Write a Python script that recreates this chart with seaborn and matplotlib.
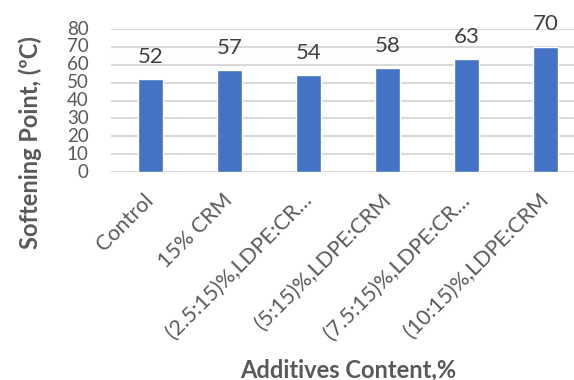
import matplotlib
matplotlib.use("Agg")
import matplotlib.pyplot as plt
import seaborn as sns
import pandas as pd

categories = ["Control", "15% CRM", "(2.5:15)%,LDPE:CR…", "(5:15)%,LDPE:CRM",
              "(7.5:15)%,LDPE:CR…", "(10:15)%,LDPE:CRM"]
softening_point = [52, 57, 54, 58, 63, 70]
y_ticks = [0, 10, 20, 30, 40, 50, 60, 70, 80]

df = pd.DataFrame({"cat": categories, "val": softening_point})

sns.set_theme(style="white")
plt.rcParams["font.family"] = ["Lato", "DejaVu Sans"]
text_color = "#595959"

W, H = 574, 380
fig = plt.figure(figsize=(W / 100, H / 100), dpi=100)
# plot area in pixels: left 111, right 585 (runs past the edge), y 29..172
ax = fig.add_axes([111 / W, 1 - 172 / H, 474 / W, 143 / H])

sns.barplot(data=df, x="cat", y="val", color="#4472C4", width=0.32,
            saturation=1, ax=ax, zorder=3)

ax.set_ylim(0, 80)
ax.set_xlim(-0.5, len(categories) - 0.5)
ax.set_yticks(y_ticks)
ax.yaxis.grid(True, color="#D9D9D9", linewidth=1.5, zorder=0)
ax.set_axisbelow(True)
for s in ["top", "right", "left", "bottom"]:
    ax.spines[s].set_visible(False)

ax.tick_params(axis="y", length=0, pad=16, labelsize=13.5, labelcolor=text_color)
ax.tick_params(axis="x", length=0, pad=18, labelsize=15.5, labelcolor=text_color)
plt.setp(ax.get_xticklabels(), rotation=45, ha="right", va="center",
         rotation_mode="anchor")
for lbl in ax.get_yticklabels():
    lbl.set_verticalalignment("center")

for i, v in enumerate(softening_point):
    ax.annotate(f"{v}", (i, v), xytext=(0, 9), textcoords="offset points",
                ha="center", va="bottom", fontsize=16, color="#404040")

ax.set_ylabel("Softening Point, (ºC)", fontsize=17, fontweight="bold",
              color=text_color)
ax.set_xlabel("Additives Content,%", fontsize=17, fontweight="bold",
              color=text_color)
ax.yaxis.set_label_coords((30 - 111) / 474, (172 - 143) / 143)
ax.xaxis.set_label_coords((348 - 111) / 474, (172 - 370) / 143)
ax.xaxis.label.set_verticalalignment("center")
ax.yaxis.label.set_verticalalignment("center")

fig.savefig("out.png", dpi=100)
